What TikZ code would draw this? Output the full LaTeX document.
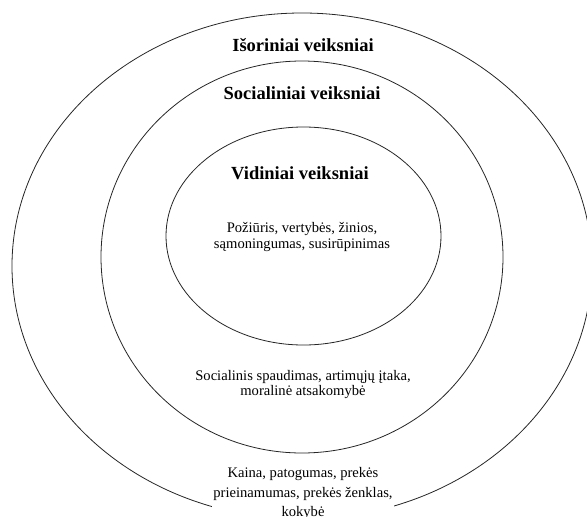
\documentclass[tikz,border=0pt]{standalone}
\usepackage{fontspec}
\setmainfont{Liberation Serif}
\usetikzlibrary{shapes.geometric}
\tikzset{
  ring/.style={draw=black!85, line width=0.8pt, ellipse, inner sep=0pt},
  head/.style={font=\fontsize{18.5}{20}\selectfont\bfseries, inner sep=0pt},
  body/.style={font=\fontsize{14.6}{16}\selectfont, align=center, inner sep=0pt},
}
\begin{document}
\begin{tikzpicture}[x=1pt,y=-1pt]
\useasboundingbox[fill=white] (0,0) rectangle (587,517);
\node[ring, minimum width=580pt, minimum height=506pt] (outer) at (302,266) {};
\node[ring, minimum width=402pt, minimum height=392pt] (middle) at (302,257) {};
\node[ring, minimum width=275pt, minimum height=218pt] (inner) at (303.5,236) {};
\node[head] (t1) at (303,45) {Išoriniai veiksniai};
\node[head] (t2) at (302,93) {Socialiniai veiksniai};
\node[head] (t3) at (300,173) {Vidiniai veiksniai};
\node[body] (d1) at (302,237) {Požiūris, vertybės, žinios,\\sąmoningumas, susirūpinimas};
\node[body, font=\fontsize{14.6}{15}\selectfont] (d2) at (303,385) {Socialinis spaudimas, artimųjų įtaka,\\moralinė atsakomybė};
\node[body, fill=white, inner sep=1pt, font=\fontsize{14.6}{19.5}\selectfont] (d3) at (303,494) {Kaina, patogumas, prekės\\prieinamumas, prekės ženklas,\\kokybė};
\end{tikzpicture}
\end{document}
